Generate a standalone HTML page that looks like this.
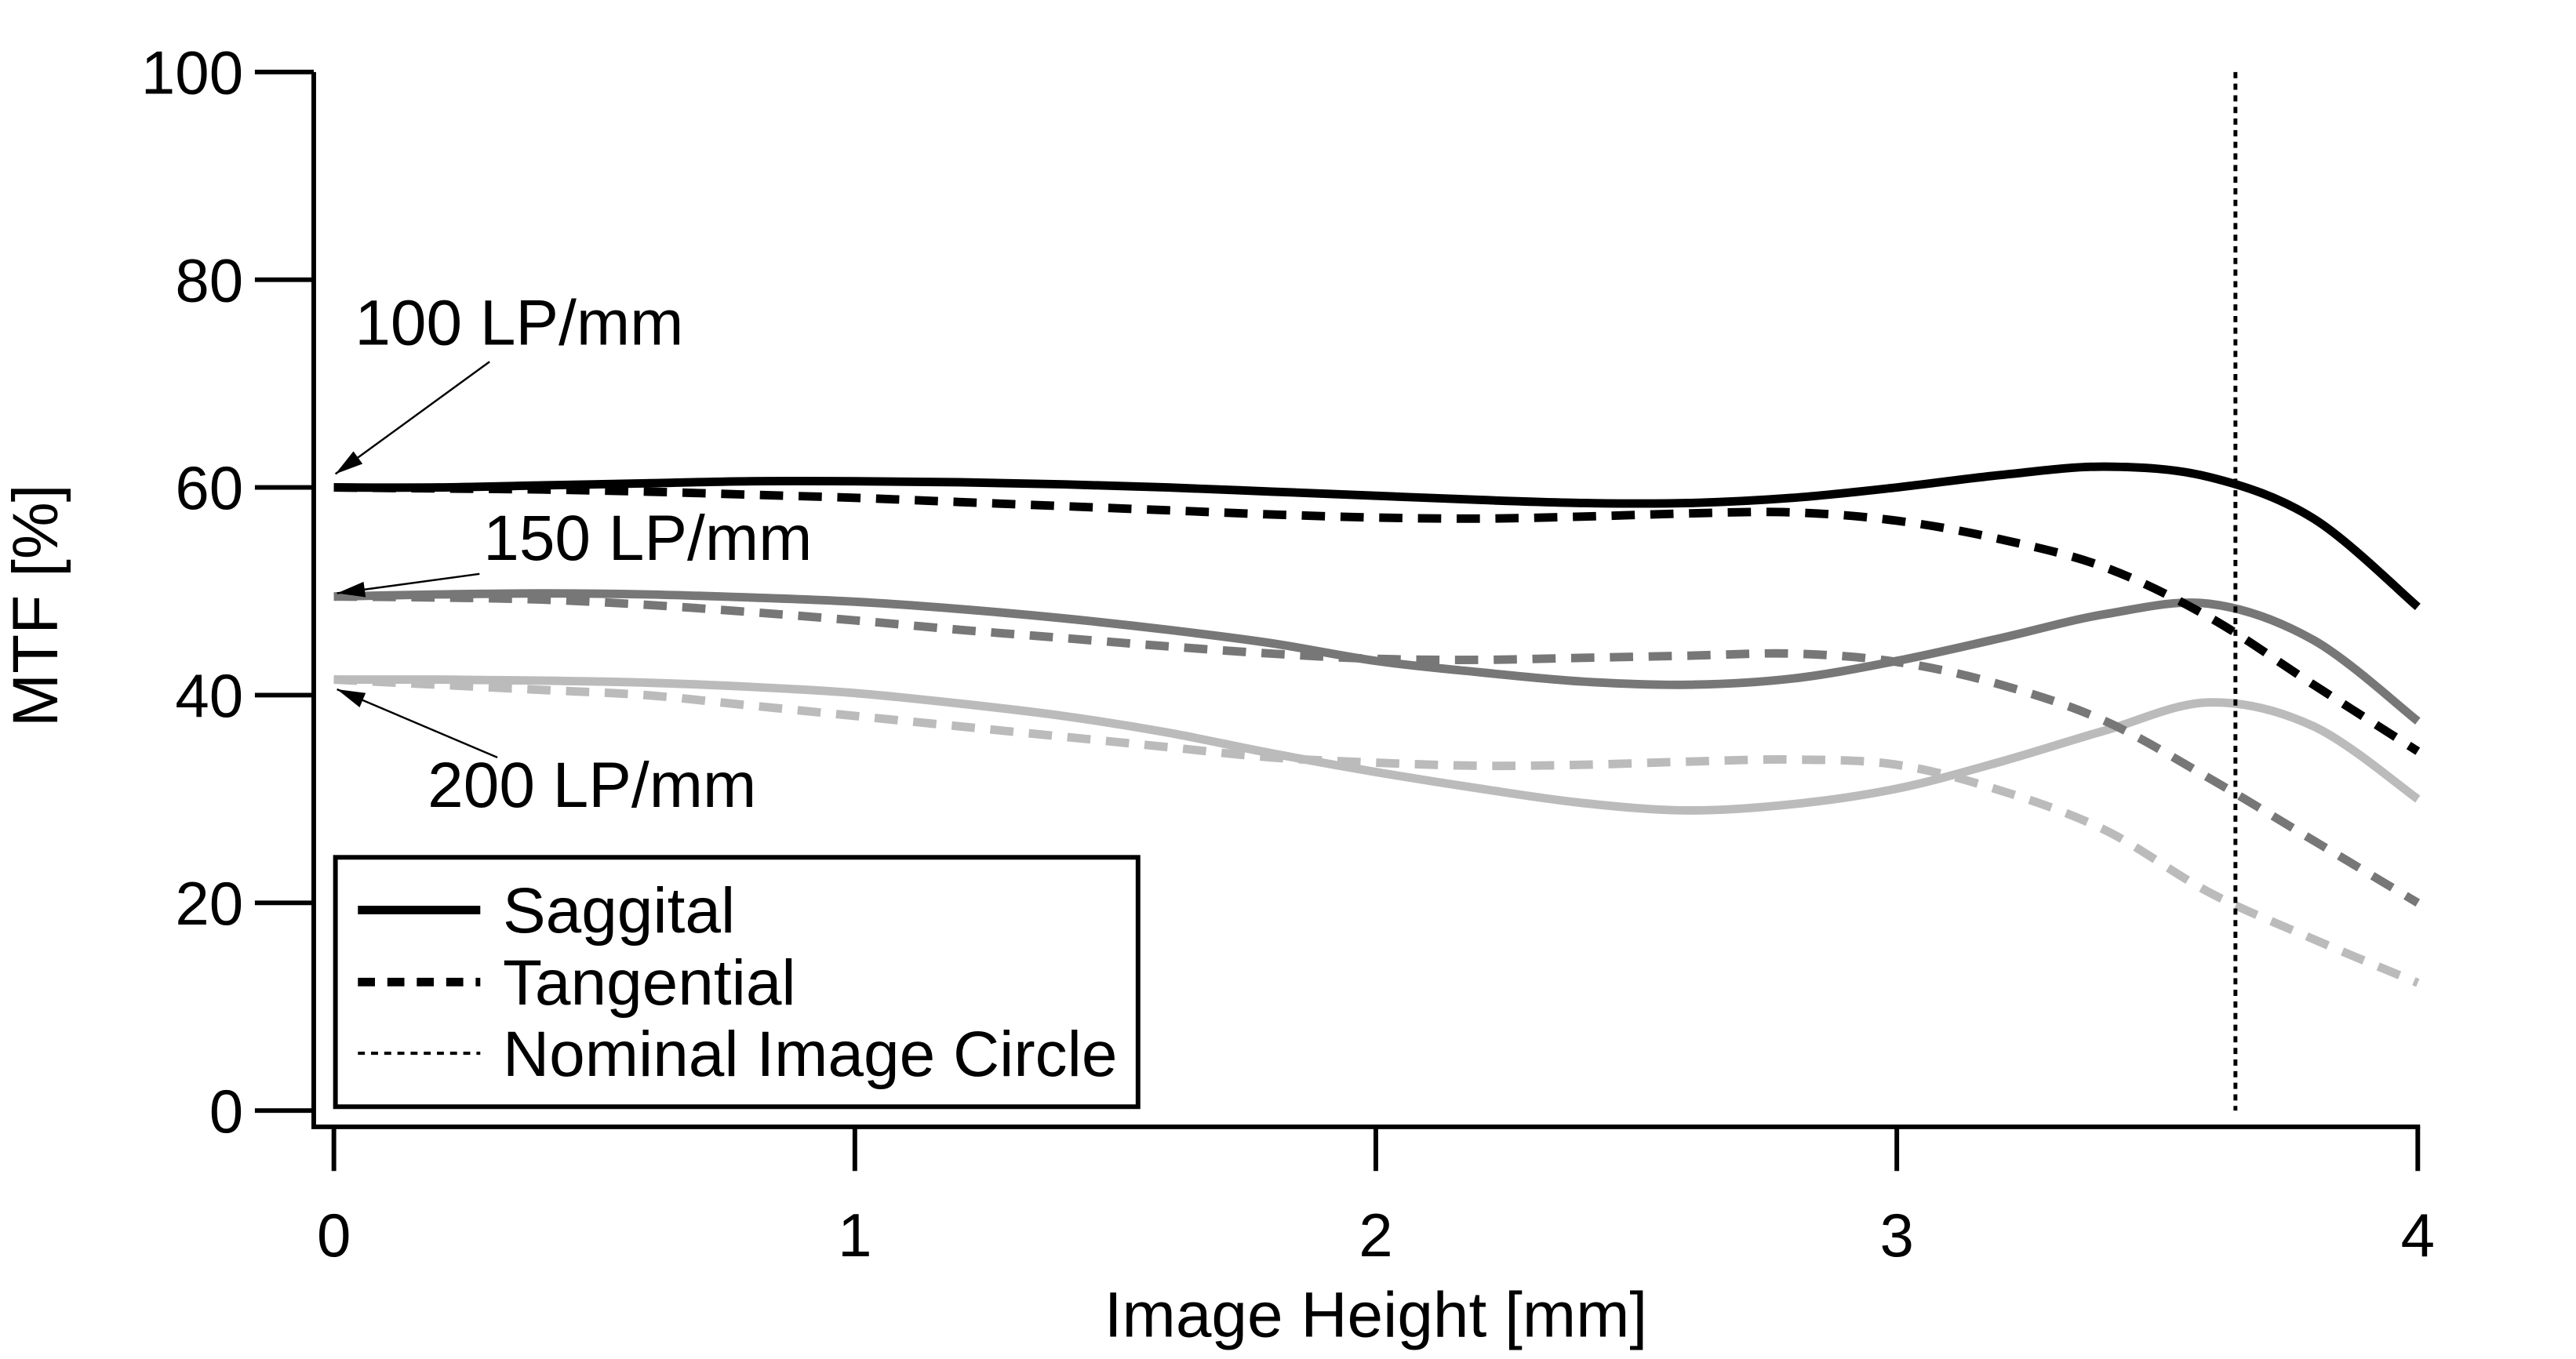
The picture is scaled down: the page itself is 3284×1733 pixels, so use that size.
<!DOCTYPE html>
<html><head><meta charset="utf-8"><style>
html,body{margin:0;padding:0;background:#fff}
svg{display:block;font-family:"Liberation Sans",Arial,sans-serif}
</style></head><body>
<svg id="chart" width="3284" height="1733" viewBox="0 0 3284 1733" xmlns="http://www.w3.org/2000/svg">
<g id="plot" transform="scale(0.9876)"></g>
</svg>
<script>
const xVals=[0,0.2,0.4,0.6,0.8,1,1.2,1.4,1.6,1.8,2,2.2,2.4,2.6,2.8,3,3.2,3.4,3.6,3.8,4];
const sag100=[60,60,60.2,60.4,60.6,60.6,60.5,60.3,60,59.6,59.2,58.8,58.5,58.5,59,60,61.2,62,61,57,48.5];
const tan100=[60,59.9,59.8,59.6,59.3,59,58.6,58.2,57.8,57.4,57.1,57,57.2,57.5,57.6,56.8,55,52.3,47.5,41,34.6];
const sag150=[49.5,49.7,49.8,49.7,49.4,49,48.3,47.4,46.3,45,43.3,42.2,41.3,41,41.6,43.3,45.5,47.8,48.8,45.3,37.5];
const tan150=[49.5,49.4,49.2,48.7,48,47.2,46.3,45.5,44.7,44,43.5,43.4,43.6,43.8,44,43.2,41,37.5,32,26,20];
const sag200=[41.5,41.5,41.4,41.2,40.8,40.2,39.2,38,36.4,34.4,32.6,31,29.6,28.9,29.5,31,33.6,36.6,39.3,37,30];
const tan200=[41.5,41,40.5,40,39,38,37,36,35,34,33.5,33.2,33.3,33.6,33.8,33.3,30.8,27,21,16.5,12.3];
const yTicks=[0,20,40,60,80,100];
const xTicks=[0,1,2,3,4];
const circleX=3.65;

const NS="http://www.w3.org/2000/svg";
const g=document.getElementById('plot');
const X0=431,X1=3121,Y0=1434,Y1=93;
const sx=v=>X0+(v-0)/(4-0)*(X1-X0);
const sy=v=>Y0-(v-0)/(100-0)*(Y0-Y1);
function el(tag,attrs,parent){const e=document.createElementNS(NS,tag);for(const k in attrs)e.setAttribute(k,attrs[k]);(parent||g).appendChild(e);return e;}

let a=el('line',{x1:405,y1:Y1,x2:405,y2:1455,stroke:'#000','stroke-width':6});


a=el('line',{x1:402,y1:1455,x2:X1+3,y2:1455,stroke:'#000','stroke-width':6});


yTicks.forEach(t=>{
  const y=sy(t);
  const l=el('line',{x1:329,y1:y,x2:405,y2:y,stroke:'#000','stroke-width':6});
  
  
  const tx=el('text',{x:314,y:y+28,'text-anchor':'end','font-size':79});
  tx.textContent=t;
  
  
});
xTicks.forEach(t=>{
  const x=sx(t);
  const l=el('line',{x1:x,y1:1455,x2:x,y2:1512,stroke:'#000','stroke-width':6});
  
  
  const tx=el('text',{x:x,y:1622,'text-anchor':'middle','font-size':79});
  tx.textContent=t;
  
  
});
let t=el('text',{x:1776,y:1726,'text-anchor':'middle','font-size':83});
t.textContent='Image Height [mm]';


t=el('text',{x:0,y:0,'text-anchor':'middle','font-size':83,transform:'translate(74,782) rotate(-90)'});
t.textContent='MTF [%]';



function pathD(ys){
  const p=xVals.map((x,i)=>[sx(x),sy(ys[i])]);
  let d='M'+p[0][0]+','+p[0][1];
  for(let i=0;i<p.length-1;i++){
    const p0=p[i-1]||p[i],p1=p[i],p2=p[i+1],p3=p[i+2]||p[i+1];
    const c1=[p1[0]+(p2[0]-p0[0])/6,p1[1]+(p2[1]-p0[1])/6];
    const c2=[p2[0]-(p3[0]-p1[0])/6,p2[1]-(p3[1]-p1[1])/6];
    d+=' C'+c1[0]+','+c1[1]+' '+c2[0]+','+c2[1]+' '+p2[0]+','+p2[1];
  }
  return d;
}
const series=[
  [tan200,'#bbbbbb',true,'tangential-200'],[sag200,'#bbbbbb',false,'saggital-200'],
  [tan150,'#777777',true,'tangential-150'],[sag150,'#777777',false,'saggital-150'],
  [tan100,'#000000',true,'tangential-100'],[sag100,'#000000',false,'saggital-100']];
series.forEach(s=>{
  const attrs={d:pathD(s[0]),fill:'none',stroke:s[1],'stroke-width':11};
  if(s[2])attrs['stroke-dasharray']='30 20';
  const p=el('path',attrs);
  
  
});
const vl=el('line',{x1:sx(circleX),y1:Y1,x2:sx(circleX),y2:Y0,stroke:'#000','stroke-width':5,'stroke-dasharray':'8 7'});



function arrow(x1,y1,x2,y2,name){
  const l=el('line',{x1,y1,x2,y2,stroke:'#000','stroke-width':2.5});
  
  
  const ang=Math.atan2(y2-y1,x2-x1),L=36,W=10;
  const bx=x2-L*Math.cos(ang),by=y2-L*Math.sin(ang);
  const px=-Math.sin(ang)*W,py=Math.cos(ang)*W;
  const h=el('polygon',{points:`${x2},${y2} ${bx+px},${by+py} ${bx-px},${by-py}`,fill:'#000'});
  
  
}
function label(x,y,s,name){const e=el('text',{x,y,'font-size':83});e.textContent=s;
  
  }
label(458,445,'100 LP/mm','label-100lpmm');
arrow(632,467,433,612,'arrow-100lpmm');
label(624,723,'150 LP/mm','label-150lpmm');
arrow(619,741,435,766,'arrow-150lpmm');
label(552,1042,'200 LP/mm','label-200lpmm');
arrow(642,978,435,890,'arrow-200lpmm');

const lg=el('g',{});


let r=el('rect',{x:433,y:1107,width:1036,height:322,fill:'#fff',stroke:'#000','stroke-width':6},lg);


const leg=[['Saggital',1175,{stroke:'#000','stroke-width':11}],['Tangential',1268,{stroke:'#000','stroke-width':11,'stroke-dasharray':'22 16'}],['Nominal Image Circle',1360,{stroke:'#000','stroke-width':4,'stroke-dasharray':'9 8'}]];
leg.forEach(e=>{
  const l=el('line',Object.assign({x1:462,y1:e[1],x2:620,y2:e[1]},e[2]),lg);
  
  
  const tx=el('text',{x:649,y:e[1]+29,'font-size':83},lg);
  tx.textContent=e[0];
  
  
});
</script>
</body></html>
